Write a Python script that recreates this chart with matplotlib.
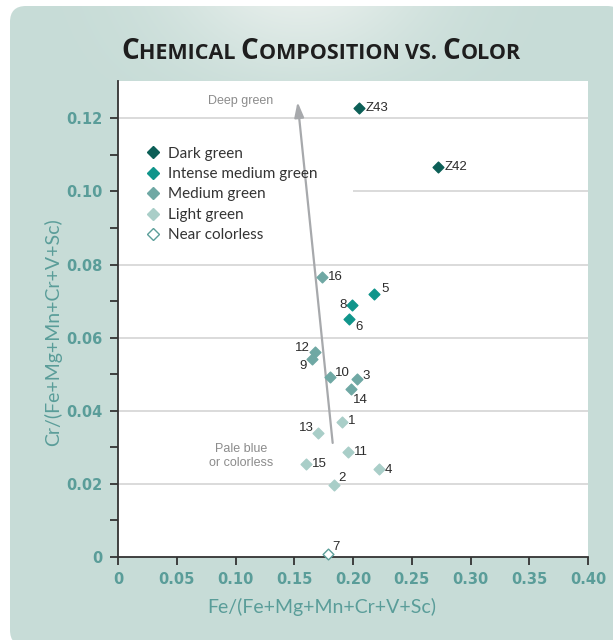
import numpy as np
import matplotlib
matplotlib.use("Agg")
import matplotlib.pyplot as plt
from matplotlib.patches import FancyBboxPatch
from matplotlib.lines import Line2D
from matplotlib.font_manager import FontProperties

# Data
samples = ["Z43", "Z42", "16", "5", "8", "6", "12", "9", "10", "3", "14",
           "1", "13", "11", "15", "4", "2", "7"]
fe = [0.205, 0.272, 0.174, 0.218, 0.199, 0.197, 0.168, 0.165, 0.180, 0.203, 0.198,
      0.191, 0.170, 0.196, 0.160, 0.222, 0.184, 0.179]
cr = [0.1228, 0.1066, 0.0765, 0.0719, 0.0690, 0.0652, 0.0561, 0.0541, 0.0492, 0.0487, 0.0460,
      0.0369, 0.0338, 0.0288, 0.0254, 0.0241, 0.0197, 0.0007]
color_group = ["Dark green", "Dark green", "Medium green", "Intense medium green",
               "Intense medium green", "Intense medium green", "Medium green", "Medium green",
               "Medium green", "Medium green", "Medium green", "Light green", "Light green",
               "Light green", "Light green", "Light green", "Light green", "Near colorless"]
groups = ["Dark green", "Intense medium green", "Medium green", "Light green", "Near colorless"]

# label offsets in points (dx, dy, ha)
label_pos = {
    "Z43": (5, 0, "left"), "Z42": (5, 0, "left"), "16": (4, 0, "left"),
    "5": (5, 4, "left"), "8": (-4, 0, "right"), "6": (4, -6, "left"),
    "12": (-4, 3, "right"), "9": (-4, -5, "right"), "10": (4, 3, "left"),
    "3": (4, 2, "left"), "14": (2, -8, "left"), "1": (4, 1, "left"),
    "13": (-3, 4, "right"), "11": (4, 0, "left"), "15": (4, 0, "left"),
    "4": (4, -1, "left"), "2": (3, 5, "left"), "7": (3, 5, "left"),
}

face = {"Dark green": "#0c5f57", "Intense medium green": "#10958b",
        "Medium green": "#6fa8a4", "Light green": "#a9cec8", "Near colorless": "white"}
edge = {"Dark green": "#0c5f57", "Intense medium green": "#10958b",
        "Medium green": "#6fa8a4", "Light green": "#a9cec8", "Near colorless": "#5b9e99"}

teal = "#5a9d99"
W, H = 613, 640
fig = plt.figure(figsize=(W / 100, H / 100), dpi=100)
fig.patch.set_facecolor("white")

# background panel with a light glow behind the title
bg = fig.add_axes([0, 0, 1, 1], zorder=-10)
bg.set_xlim(0, W)
bg.set_ylim(H, 0)
bg.axis("off")
xx, yy = np.meshgrid(np.arange(W), np.arange(H))
glow = np.exp(-((xx - 300) / 130.0) ** 2) * np.clip(1 - yy / 110.0, 0, 1)
base = np.array([199, 220, 215]) / 255.0
light = np.array([230, 238, 235]) / 255.0
img = base + glow[..., None] * (light - base)
panel = FancyBboxPatch((10, 6), W, H, boxstyle="round,pad=0,rounding_size=16",
                       transform=bg.transData, facecolor="none", edgecolor="none")
bg.add_patch(panel)
im = bg.imshow(img, extent=(0, W, H, 0), aspect="auto")
im.set_clip_path(panel)

ax = fig.add_axes([118 / W, 1 - 557 / H, 470 / W, 476 / H])
ax.set_facecolor("white")
ax.set_xlim(0, 0.40)
ax.set_ylim(0, 0.1302)

# grid lines (the 0.10 one is hidden behind the legend on the left)
ax.hlines([0.02, 0.04, 0.06, 0.08, 0.12], 0, 0.40, color="#d4d4d4", lw=1.2, zorder=1)
ax.hlines([0.10], 0.20, 0.40, color="#d4d4d4", lw=1.2, zorder=1)

for sp in ["top", "right"]:
    ax.spines[sp].set_visible(False)
for sp in ["left", "bottom"]:
    ax.spines[sp].set_color("#333333")
    ax.spines[sp].set_linewidth(1.3)

ax.set_xticks(np.arange(0, 0.401, 0.05))
ax.set_xticklabels(["0", "0.05", "0.10", "0.15", "0.20", "0.25", "0.30", "0.35", "0.40"])
ax.set_yticks(np.arange(0, 0.121, 0.02))
ax.set_yticklabels(["0", "0.02", "0.04", "0.06", "0.08", "0.10", "0.12"])
ax.set_yticks(np.arange(0.01, 0.12, 0.02), minor=True)
tick_fp = FontProperties(family=["Liberation Sans Narrow", "DejaVu Sans"], weight="bold", size=10.5)
for lab in ax.get_xticklabels() + ax.get_yticklabels():
    lab.set_fontproperties(tick_fp)
    lab.set_color(teal)
ax.tick_params(axis="both", which="both", length=6, width=1.3, color="#333333", direction="out")
ax.tick_params(axis="y", pad=5)
ax.tick_params(axis="x", pad=5)

label_font = dict(family=["Lato", "DejaVu Sans"], size=14, color=teal)
ax.set_xlabel("Fe/(Fe+Mg+Mn+Cr+V+Sc)", va="center", **label_font)
ax.set_ylabel("Cr/(Fe+Mg+Mn+Cr+V+Sc)", va="center", **label_font)
ax.xaxis.set_label_coords(0.434, -0.105)
ax.yaxis.set_label_coords(-0.138, 0.473)

# points
for g in groups:
    xs = [x for x, c in zip(fe, color_group) if c == g]
    ys = [y for y, c in zip(cr, color_group) if c == g]
    ax.scatter(xs, ys, marker="D", s=30, facecolor=face[g], edgecolor=edge[g],
               linewidth=1.0, zorder=4, clip_on=False)

for name, x, y in zip(samples, fe, cr):
    dx, dy, ha = label_pos[name]
    ax.annotate(name, (x, y), xytext=(dx, dy), textcoords="offset points",
                ha=ha, va="center", fontsize=9.5, color="#2b2b2b",
                family=["Liberation Sans", "DejaVu Sans"], zorder=5)

# trend arrow
ax.annotate("", xy=(0.1528, 0.1245), xytext=(0.1827, 0.0312),
            arrowprops=dict(arrowstyle="-|>,head_length=0.9,head_width=0.28",
                            color="#a7a9ac", lw=1.6, shrinkA=0, shrinkB=0), zorder=3)
ax.text(0.104, 0.1247, "Deep green", ha="center", va="center", fontsize=9,
        color="#8c8c8c", family=["Liberation Sans", "DejaVu Sans"])
ax.text(0.105, 0.0277, "Pale blue\nor colorless", ha="center", va="center", fontsize=9,
        color="#8c8c8c", family=["Liberation Sans", "DejaVu Sans"], linespacing=1.25)

# legend
handles = [Line2D([], [], marker="D", linestyle="none", markersize=6,
                  markerfacecolor=face[g], markeredgecolor=edge[g], markeredgewidth=1.0)
           for g in groups]
leg = ax.legend(handles, groups, loc="upper left", bbox_to_anchor=(0.045, 0.875),
                frameon=False, handlelength=1.0, handletextpad=0.5, labelspacing=0.42,
                prop=dict(family=["Lato", "DejaVu Sans"], size=11), borderaxespad=0)
for t in leg.get_texts():
    t.set_color("#333333")

# small caps title, drawn piece by piece
pieces = [("C", 20), ("HEMICAL ", 15.5), ("C", 20), ("OMPOSITION ", 15.5),
          ("VS. ", 15.5), ("C", 20), ("OLOR", 15.5)]
renderer = fig.canvas.get_renderer()
xpos = 121
for txt, size in pieces:
    t = fig.text(xpos / W, 1 - 59 / H, txt, fontsize=size, weight="bold",
                 family=["Open Sans", "DejaVu Sans"], color="#1e1e1e", va="baseline", ha="left")
    xpos += t.get_window_extent(renderer).width

fig.savefig("out.png", dpi=100)
